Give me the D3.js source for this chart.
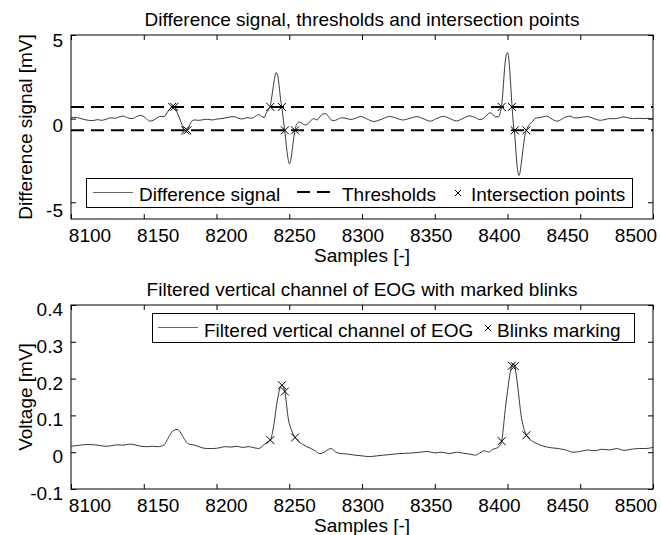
<!DOCTYPE html>
<html>
<head>
<meta charset="utf-8">
<script src="https://cdn.jsdelivr.net/npm/d3@7"></script>
<style>
  body { margin: 0; background: #fff; }
  text { font-family: "Liberation Sans", Arial, sans-serif; fill: #000; }
</style>
</head>
<body>
<div id="chart"></div>
<script>
// x axis
const xTicks = [8100, 8150, 8200, 8250, 8300, 8350, 8400, 8450, 8500];

// top panel: difference signal
const diffSamples = [8100, 8103, 8106, 8109, 8112, 8115, 8118, 8121, 8124, 8127, 8130, 8133, 8136, 8139, 8142, 8145, 8148, 8151, 8154, 8157,
  8160, 8162, 8164, 8166, 8168, 8169, 8170, 8171, 8172, 8174, 8176, 8178, 8179, 8180, 8181, 8183, 8185, 8188, 8191, 8194,
  8197, 8200, 8203, 8206, 8209, 8212, 8215, 8218, 8221, 8224, 8227, 8229, 8231, 8233, 8234, 8235, 8236, 8237, 8238, 8239,
  8240, 8241, 8242, 8243, 8244, 8245, 8246, 8247, 8248, 8249, 8250, 8251, 8252, 8253, 8254, 8255, 8257, 8259, 8261, 8263,
  8265, 8267, 8269, 8271, 8273, 8275, 8277, 8279, 8281, 8283, 8286, 8289, 8292, 8295, 8299, 8303, 8308, 8313, 8319, 8323,
  8328, 8333, 8338, 8342, 8347, 8351, 8356, 8360, 8365, 8369, 8374, 8378, 8381, 8384, 8388, 8390, 8392, 8394, 8395, 8396,
  8397, 8398, 8399, 8400, 8401, 8402, 8403, 8404, 8405, 8406, 8407, 8408, 8409, 8410, 8411, 8412, 8413, 8414, 8415, 8417,
  8419, 8421, 8424, 8427, 8430, 8434, 8437, 8440, 8443, 8446, 8449, 8452, 8455, 8458, 8461, 8464, 8467, 8470, 8474, 8477,
  8480, 8483, 8486, 8490, 8494, 8497, 8500];
const diffValues = [0.05, 0.08, 0.02, -0.05, -0.1, -0.12, -0.06, -0.1, -0.04, 0.05, 0.02, 0.1, 0.15, 0.05, 0.0, 0.12, 0.2, 0.06, -0.15, -0.08,
  0.1, 0.14, 0.12, 0.35, 0.6, 0.7, 0.76, 0.72, 0.55, 0.15, -0.3, -0.66, -0.76, -0.7, -0.5, -0.15, -0.08, -0.1, -0.06, -0.04,
  -0.08, -0.03, 0.0, 0.04, 0.1, 0.12, 0.02, -0.02, 0.06, 0.02, 0.15, 0.25, 0.12, 0.08, 0.3, 0.45, 0.6, 0.8, 1.3, 1.9,
  2.45, 2.75, 2.6, 2.0, 1.2, 0.6, -0.1, -0.8, -1.6, -2.3, -2.7, -2.5, -1.9, -1.2, -0.7, -0.35, -0.2, -0.3, -0.38, -0.3,
  -0.1, 0.0, -0.08, 0.1, 0.28, 0.3, 0.12, -0.08, -0.12, -0.05, 0.05, 0.02, -0.05, 0.0, 0.13, 0.0, -0.17, -0.05, 0.13, 0.05,
  -0.08, 0.02, 0.12, 0.0, -0.15, 0.0, 0.14, 0.02, -0.14, 0.0, 0.16, 0.06, -0.06, 0.05, 0.35, 0.25, 0.1, 0.12, 0.35, 0.8,
  1.8, 3.0, 3.75, 3.95, 3.5, 2.3, 0.9, -0.3, -1.0, -2.2, -3.1, -3.4, -3.0, -2.3, -1.6, -1.0, -0.7, -0.5, -0.35, -0.2,
  0.02, 0.05, 0.1, 0.15, 0.0, -0.15, -0.05, 0.1, 0.15, 0.05, 0.05, 0.1, 0.12, 0.05, -0.05, -0.1, -0.05, 0.0, 0.0, 0.05,
  0.1, 0.05, 0.0, 0.02, 0.0, 0.02, 0.0];
const thresholds = [0.7, -0.7];
const crossSamples = [8169.5, 8171, 8178.5, 8180, 8237, 8245, 8247, 8254, 8396, 8403, 8405, 8413];
const crossValues = [0.7, 0.7, -0.7, -0.7, 0.7, 0.7, -0.7, -0.7, 0.7, 0.7, -0.7, -0.7];
const topYTicks = [-5, 0, 5];

// bottom panel: filtered EOG
const eogSamples = [8100, 8104, 8108, 8112, 8116, 8120, 8124, 8128, 8132, 8136, 8140, 8144, 8148, 8152, 8156, 8160, 8164, 8167, 8170, 8173,
  8175, 8178, 8181, 8184, 8186, 8190, 8194, 8198, 8202, 8206, 8210, 8214, 8218, 8222, 8226, 8229, 8232, 8234, 8236, 8237,
  8238, 8239, 8240, 8241, 8242, 8243, 8244, 8245, 8246, 8247, 8248, 8249, 8250, 8251, 8252, 8253, 8254, 8256, 8259, 8262,
  8265, 8268, 8271, 8274, 8277, 8279, 8282, 8286, 8290, 8295, 8300, 8305, 8310, 8315, 8320, 8325, 8330, 8335, 8340, 8345,
  8350, 8355, 8360, 8365, 8370, 8375, 8378, 8381, 8384, 8387, 8390, 8393, 8395, 8396, 8397, 8398, 8399, 8400, 8401, 8402,
  8403, 8404, 8405, 8406, 8407, 8408, 8409, 8410, 8411, 8412, 8413, 8415, 8418, 8421, 8425, 8430, 8435, 8440, 8445, 8450,
  8455, 8460, 8465, 8470, 8475, 8480, 8485, 8490, 8495, 8500];
const eogValues = [0.016, 0.018, 0.02, 0.021, 0.02, 0.018, 0.016, 0.018, 0.02, 0.019, 0.022, 0.02, 0.016, 0.015, 0.016, 0.015, 0.02, 0.04, 0.058, 0.062,
  0.055, 0.035, 0.022, 0.02, 0.018, 0.012, 0.01, 0.01, 0.012, 0.015, 0.014, 0.016, 0.013, 0.015, 0.012, 0.01, 0.018, 0.025, 0.03, 0.033,
  0.045, 0.065, 0.09, 0.12, 0.145, 0.165, 0.178, 0.182, 0.176, 0.165, 0.135, 0.1, 0.078, 0.066, 0.055, 0.046, 0.04, 0.03, 0.022, 0.015,
  0.01, 0.003, -0.004, 0.0, 0.008, 0.01, 0.0, -0.004, -0.005, -0.008, -0.01, -0.012, -0.01, -0.008, -0.006, -0.004, -0.003, -0.002, 0.0, 0.002,
  -0.002, 0.0, -0.004, 0.0, -0.003, -0.006, -0.008, -0.002, 0.004, 0.0, 0.008, 0.012, 0.02, 0.03, 0.06, 0.1, 0.135, 0.165, 0.195, 0.22,
  0.235, 0.24, 0.234, 0.21, 0.18, 0.145, 0.11, 0.085, 0.068, 0.055, 0.046, 0.036, 0.028, 0.022, 0.016, 0.012, 0.01, 0.006, 0.0, 0.002,
  0.006, 0.004, 0.008, 0.006, 0.01, 0.005, 0.008, 0.01, 0.01, 0.013];
const blinkSamples = [8237, 8245, 8247, 8254, 8396, 8403, 8405, 8413];
const blinkValues = [0.033, 0.182, 0.165, 0.04, 0.03, 0.235, 0.234, 0.046];
const bottomYTicks = [-0.1, 0, 0.1, 0.2, 0.3, 0.4];

const width = 661, height = 535;
const left = 71, right = 653;

const svg = d3.select("#chart").append("svg")
  .attr("width", width)
  .attr("height", height);

svg.append("rect").attr("width", width).attr("height", height).attr("fill", "#fff");

const x = d3.scaleLinear().domain([8100, 8500]).range([left, right]);
// tick labels sit slightly inward of their ticks in the original export
const xLabel = d3.scaleLinear().domain([8100, 8500]).range([90, 636]);

function marker(g, px, py, r) {
  g.append("path")
    .attr("d", `M${px - r},${py - r}L${px + r},${py + r}M${px - r},${py + r}L${px + r},${py - r}`)
    .attr("stroke", "#000")
    .attr("stroke-width", 1)
    .attr("fill", "none");
}

function panel(top, bottom, yDomain, yTicks, yLabelRange, title, ylabel) {
  const y = d3.scaleLinear().domain(yDomain).range([bottom, top]);
  const yLab = d3.scaleLinear().domain([yTicks[0], yTicks[yTicks.length - 1]]).range(yLabelRange);
  const g = svg.append("g");

  // inward ticks on all four sides
  g.append("g").attr("transform", `translate(0,${bottom})`)
    .call(d3.axisBottom(x).tickValues(xTicks).tickSize(-5).tickSizeOuter(0).tickFormat(""));
  g.append("g").attr("transform", `translate(0,${top})`)
    .call(d3.axisTop(x).tickValues(xTicks).tickSize(-5).tickSizeOuter(0).tickFormat(""));
  g.append("g").attr("transform", `translate(${left},0)`)
    .call(d3.axisLeft(y).tickValues(yTicks).tickSize(-5).tickSizeOuter(0).tickFormat(""));
  g.append("g").attr("transform", `translate(${right},0)`)
    .call(d3.axisRight(y).tickValues(yTicks).tickSize(-5).tickSizeOuter(0).tickFormat(""));
  g.selectAll(".domain").remove();
  g.selectAll(".tick line").attr("stroke", "#000");

  g.append("rect")
    .attr("x", left).attr("y", top)
    .attr("width", right - left).attr("height", bottom - top)
    .attr("fill", "none").attr("stroke", "#000").attr("stroke-width", 1);

  g.selectAll(".xlab").data(xTicks).join("text")
    .attr("x", d => xLabel(d))
    .attr("y", bottom + 23)
    .attr("text-anchor", "middle")
    .style("font-size", "19px")
    .text(d => d);

  g.selectAll(".ylab").data(yTicks).join("text")
    .attr("x", left - 8)
    .attr("y", d => yLab(d) + 7)
    .attr("text-anchor", "end")
    .style("font-size", "19px")
    .text(d => String(d));

  g.append("text")
    .attr("x", (left + right) / 2).attr("y", bottom + 43)
    .attr("text-anchor", "middle")
    .style("font-size", "19px")
    .text("Samples [-]");

  g.append("text")
    .attr("x", (left + right) / 2).attr("y", top - 9)
    .attr("text-anchor", "middle")
    .style("font-size", "19px")
    .text(title);

  g.append("text")
    .attr("transform", `translate(32,${(top + bottom) / 2}) rotate(-90)`)
    .attr("text-anchor", "middle")
    .style("font-size", "19px")
    .text(ylabel);

  return {g, y};
}

// ---- top panel
const p1 = panel(35, 219, [-6, 5], topYTicks, [210, 40],
  "Difference signal, thresholds and intersection points", "Difference signal [mV]");

svg.append("clipPath").attr("id", "clip1")
  .append("rect").attr("x", left).attr("y", 35).attr("width", right - left).attr("height", 184);

const line1 = d3.line()
  .x(i => x(diffSamples[i]))
  .y(i => p1.y(diffValues[i]))
  .curve(d3.curveMonotoneX);

p1.g.append("path")
  .attr("d", line1(d3.range(diffSamples.length)))
  .attr("fill", "none")
  .attr("stroke", "#222")
  .attr("stroke-width", 0.9)
  .attr("clip-path", "url(#clip1)");

thresholds.forEach(t => {
  p1.g.append("line")
    .attr("x1", left).attr("x2", right)
    .attr("y1", p1.y(t)).attr("y2", p1.y(t))
    .attr("stroke", "#000")
    .attr("stroke-width", 2)
    .attr("stroke-dasharray", "13,7");
});

crossSamples.forEach((s, i) => marker(p1.g, x(s), p1.y(crossValues[i]), 4));

// legend top
const lg1 = p1.g.append("g");
lg1.append("rect").attr("x", 86.5).attr("y", 178.5).attr("width", 546).attr("height", 29)
  .attr("fill", "#fff").attr("stroke", "#000").attr("stroke-width", 1);
lg1.append("line").attr("x1", 93).attr("x2", 133).attr("y1", 192.5).attr("y2", 192.5)
  .attr("stroke", "#666").attr("stroke-width", 1);
lg1.append("text").attr("x", 139).attr("y", 201).style("font-size", "19px").text("Difference signal");
lg1.append("line").attr("x1", 297).attr("x2", 331).attr("y1", 192).attr("y2", 192)
  .attr("stroke", "#000").attr("stroke-width", 2).attr("stroke-dasharray", "13,7");
lg1.append("text").attr("x", 342).attr("y", 201).style("font-size", "19px").text("Thresholds");
marker(lg1, 458, 193, 3);
lg1.append("text").attr("x", 471).attr("y", 201).style("font-size", "19px").text("Intersection points");

// ---- bottom panel
const p2 = panel(305, 489, [-0.1, 0.4], bottomYTicks, [493, 309],
  "Filtered vertical channel of EOG with marked blinks", "Voltage [mV]");

const line2 = d3.line()
  .x(i => x(eogSamples[i]))
  .y(i => p2.y(eogValues[i]))
  .curve(d3.curveMonotoneX);

p2.g.append("path")
  .attr("d", line2(d3.range(eogSamples.length)))
  .attr("fill", "none")
  .attr("stroke", "#222")
  .attr("stroke-width", 0.9);

blinkSamples.forEach((s, i) => marker(p2.g, x(s), p2.y(blinkValues[i]), 4));

// legend bottom
const lg2 = p2.g.append("g");
lg2.append("rect").attr("x", 152.5).attr("y", 313.5).attr("width", 482).attr("height", 29)
  .attr("fill", "#fff").attr("stroke", "#000").attr("stroke-width", 1);
lg2.append("line").attr("x1", 158).attr("x2", 198).attr("y1", 327.5).attr("y2", 327.5)
  .attr("stroke", "#666").attr("stroke-width", 1);
lg2.append("text").attr("x", 204).attr("y", 337).style("font-size", "19px").text("Filtered vertical channel of EOG");
marker(lg2, 488, 328, 3);
lg2.append("text").attr("x", 497).attr("y", 337).style("font-size", "19px").text("Blinks marking");
</script>
</body>
</html>
